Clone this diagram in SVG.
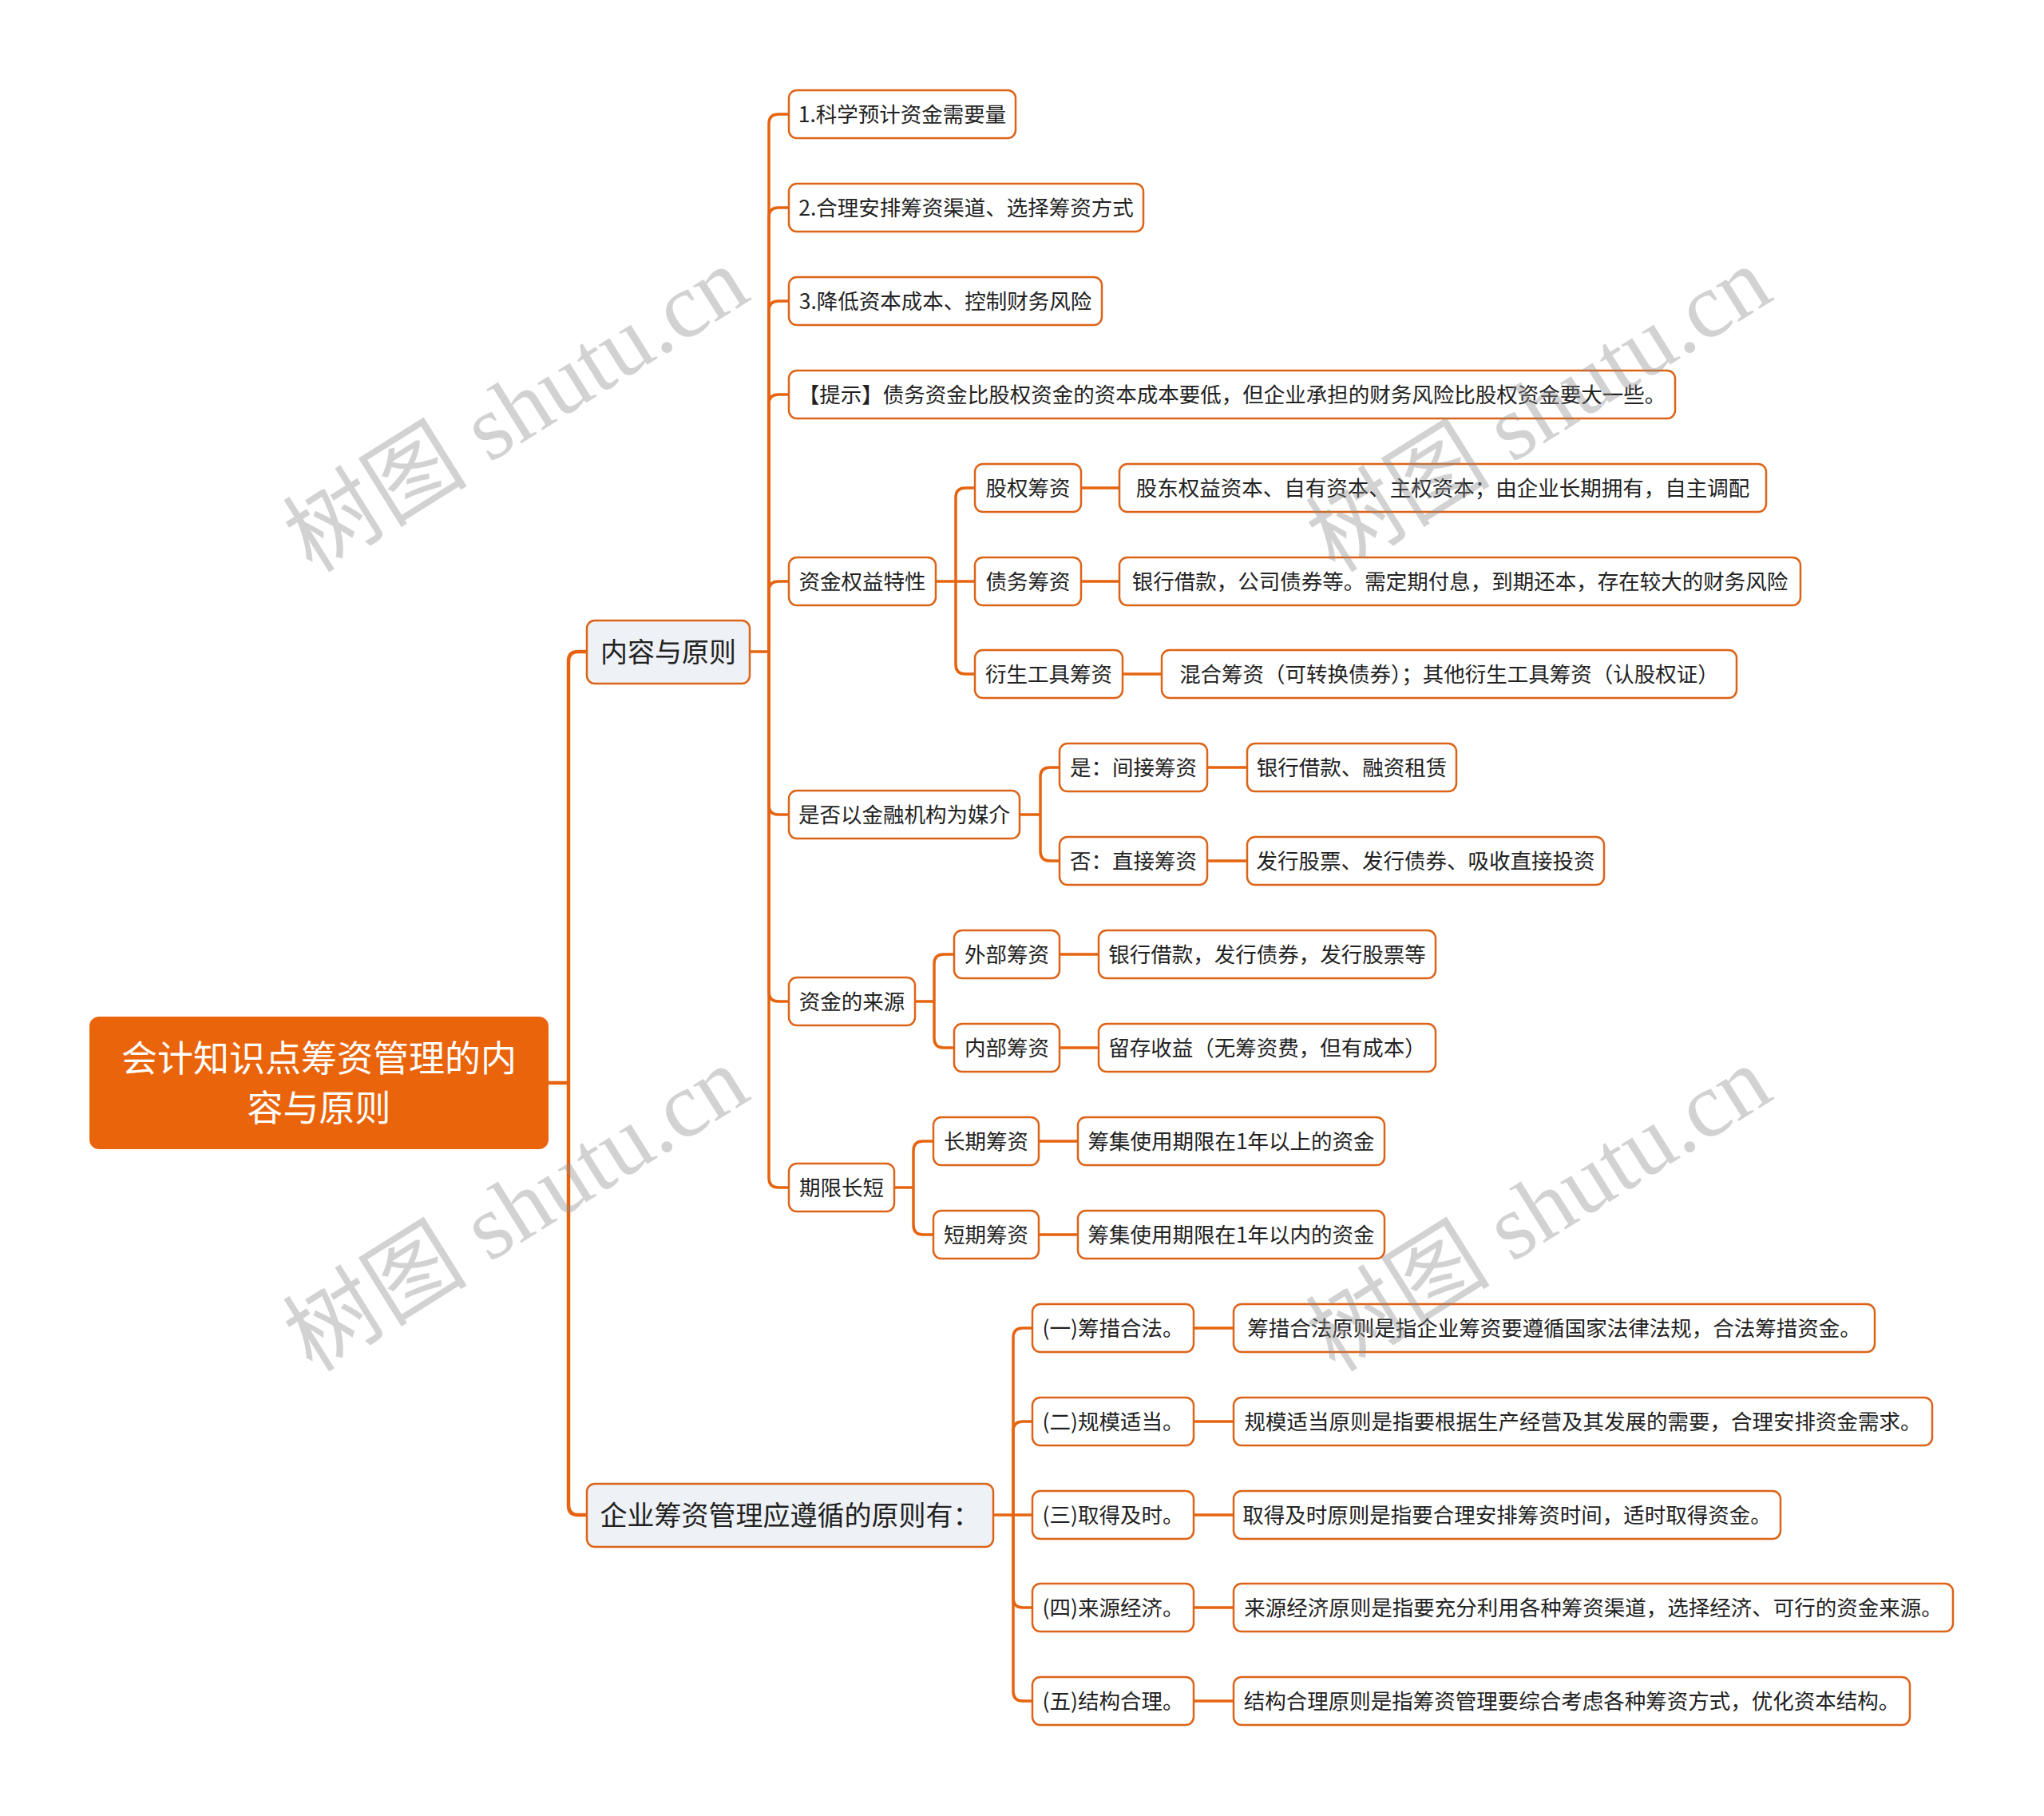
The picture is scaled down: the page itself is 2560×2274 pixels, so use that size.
<svg xmlns="http://www.w3.org/2000/svg" width="2560" height="2274" viewBox="0 0 2560 2274">
<style>
.bg{fill:#ffffff}
.c{fill:none;stroke:#e6640f;stroke-width:3.5}
.c1{fill:none;stroke:#e6640f;stroke-width:4.5}
.n rect{fill:#ffffff;stroke:#dc6418;stroke-width:2.5}
.l1 rect{fill:#eef1f5;stroke:#dc6418;stroke-width:2.5}
.root rect{fill:#ea640c}
text{font-family:"Noto Sans CJK SC","Noto Sans",sans-serif;text-anchor:middle;fill:#222222}
.n text{font-size:26.5px}
.root text{fill:#ffffff;font-size:45px}
.wm{font-family:"Liberation Serif","Noto Sans CJK SC",serif;font-size:116px;fill:#8c8c8c;opacity:0.38;text-anchor:middle}
</style>
<rect class="bg" x="0" y="0" width="2560" height="2274"/>

<g id="connectors">
  <path class="c1" d="M687 1356 H712"/>
  <path class="c1" d="M712 1356 V828 Q712 816 724 816 H735"/>
  <path class="c1" d="M712 1356 V1885 Q712 1897 724 1897 H735"/>
  <path class="c" d="M939 816 H963"/>
  <path class="c" d="M963 816 V155 Q963 143 975 143 H988"/>
  <path class="c" d="M963 816 V272 Q963 260 975 260 H988"/>
  <path class="c" d="M963 816 V389 Q963 377 975 377 H988"/>
  <path class="c" d="M963 816 V506 Q963 494 975 494 H988"/>
  <path class="c" d="M963 816 V740 Q963 728 975 728 H988"/>
  <path class="c" d="M963 816 V1008 Q963 1020 975 1020 H988"/>
  <path class="c" d="M963 816 V1242 Q963 1254 975 1254 H988"/>
  <path class="c" d="M963 816 V1475 Q963 1487 975 1487 H988"/>
  <path class="c" d="M1172 728 H1221"/>
  <path class="c" d="M1197 728 V623 Q1197 611 1209 611 H1221"/>
  <path class="c" d="M1197 728 V832 Q1197 844 1209 844 H1221"/>
  <path class="c" d="M1354 611 H1402"/>
  <path class="c" d="M1354 728 H1402"/>
  <path class="c" d="M1406 844 H1455"/>
  <path class="c" d="M1277 1020 H1303"/>
  <path class="c" d="M1303 1020 V973 Q1303 961 1315 961 H1327"/>
  <path class="c" d="M1303 1020 V1066 Q1303 1078 1315 1078 H1327"/>
  <path class="c" d="M1512 961 H1562"/>
  <path class="c" d="M1512 1078 H1562"/>
  <path class="c" d="M1146 1254 H1170"/>
  <path class="c" d="M1170 1254 V1207 Q1170 1195 1182 1195 H1195"/>
  <path class="c" d="M1170 1254 V1300 Q1170 1312 1182 1312 H1195"/>
  <path class="c" d="M1327 1195 H1376"/>
  <path class="c" d="M1327 1312 H1376"/>
  <path class="c" d="M1120 1487 H1144"/>
  <path class="c" d="M1144 1487 V1441 Q1144 1429 1156 1429 H1169"/>
  <path class="c" d="M1144 1487 V1534 Q1144 1546 1156 1546 H1169"/>
  <path class="c" d="M1301 1429 H1350"/>
  <path class="c" d="M1301 1546 H1350"/>
  <path class="c" d="M1244 1897 H1293"/>
  <path class="c" d="M1269 1897 V1675 Q1269 1663 1281 1663 H1293"/>
  <path class="c" d="M1269 1897 V1792 Q1269 1780 1281 1780 H1293"/>
  <path class="c" d="M1269 1897 V2001 Q1269 2013 1281 2013 H1293"/>
  <path class="c" d="M1269 1897 V2118 Q1269 2130 1281 2130 H1293"/>
  <path class="c" d="M1495 1663 H1545"/>
  <path class="c" d="M1495 1780 H1545"/>
  <path class="c" d="M1495 1897 H1545"/>
  <path class="c" d="M1495 2013 H1545"/>
  <path class="c" d="M1495 2130 H1545"/>
</g>

<g id="root" class="root">
  <rect x="112" y="1273" width="575" height="166" rx="12"/>
  <text x="399.5" y="1342">会计知识点筹资管理的内</text>
  <text x="399.5" y="1404">容与原则</text>
</g>

<g id="n-neirong" class="l1">
  <rect x="735" y="777" width="204" height="79" rx="10"/>
  <text x="837" y="829" style="font-size:34px">内容与原则</text>
</g>
<g id="n-qiye" class="l1">
  <rect x="735" y="1858" width="509" height="79" rx="10"/>
  <text x="989.5" y="1910" style="font-size:34px">企业筹资管理应遵循的原则有：</text>
</g>

<g id="n-a1" class="n"><rect x="988" y="113" width="284" height="60" rx="10"/><text x="1130" y="152.5">1.科学预计资金需要量</text></g>
<g id="n-a2" class="n"><rect x="988" y="230" width="444" height="60" rx="10"/><text x="1210" y="269.5">2.合理安排筹资渠道、选择筹资方式</text></g>
<g id="n-a3" class="n"><rect x="988" y="347" width="392" height="60" rx="10"/><text x="1184" y="386.5">3.降低资本成本、控制财务风险</text></g>
<g id="n-a4" class="n"><rect x="988" y="464" width="1110" height="60" rx="10"/><text x="1543" y="503.5">【提示】债务资金比股权资金的资本成本要低，但企业承担的财务风险比股权资金要大一些。</text></g>
<g id="n-a5" class="n"><rect x="988" y="698" width="184" height="60" rx="10"/><text x="1080" y="737.5">资金权益特性</text></g>
<g id="n-a6" class="n"><rect x="988" y="990" width="289" height="60" rx="10"/><text x="1132.5" y="1029.5">是否以金融机构为媒介</text></g>
<g id="n-a7" class="n"><rect x="988" y="1224" width="158" height="60" rx="10"/><text x="1067" y="1263.5">资金的来源</text></g>
<g id="n-a8" class="n"><rect x="988" y="1457" width="132" height="60" rx="10"/><text x="1054" y="1496.5">期限长短</text></g>

<g id="n-b1" class="n"><rect x="1221" y="581" width="133" height="60" rx="10"/><text x="1287.5" y="620.5">股权筹资</text></g>
<g id="n-b2" class="n"><rect x="1221" y="698" width="133" height="60" rx="10"/><text x="1287.5" y="737.5">债务筹资</text></g>
<g id="n-b3" class="n"><rect x="1221" y="814" width="185" height="60" rx="10"/><text x="1313.5" y="853.5">衍生工具筹资</text></g>
<g id="n-c1" class="n"><rect x="1402" y="581" width="810" height="60" rx="10"/><text x="1807" y="620.5">股东权益资本、自有资本、主权资本；由企业长期拥有，自主调配</text></g>
<g id="n-c2" class="n"><rect x="1402" y="698" width="853" height="60" rx="10"/><text x="1828.5" y="737.5">银行借款，公司债券等。需定期付息，到期还本，存在较大的财务风险</text></g>
<g id="n-c3" class="n"><rect x="1455" y="814" width="720" height="60" rx="10"/><text x="1815" y="853.5">混合筹资（可转换债券）；其他衍生工具筹资（认股权证）</text></g>

<g id="n-d1" class="n"><rect x="1327" y="931" width="185" height="60" rx="10"/><text x="1419.5" y="970.5">是：间接筹资</text></g>
<g id="n-d2" class="n"><rect x="1327" y="1048" width="185" height="60" rx="10"/><text x="1419.5" y="1087.5">否：直接筹资</text></g>
<g id="n-e1" class="n"><rect x="1562" y="931" width="262" height="60" rx="10"/><text x="1693" y="970.5">银行借款、融资租赁</text></g>
<g id="n-e2" class="n"><rect x="1562" y="1048" width="447" height="60" rx="10"/><text x="1785.5" y="1087.5">发行股票、发行债券、吸收直接投资</text></g>

<g id="n-f1" class="n"><rect x="1195" y="1165" width="132" height="60" rx="10"/><text x="1261" y="1204.5">外部筹资</text></g>
<g id="n-f2" class="n"><rect x="1195" y="1282" width="132" height="60" rx="10"/><text x="1261" y="1321.5">内部筹资</text></g>
<g id="n-g1" class="n"><rect x="1376" y="1165" width="422" height="60" rx="10"/><text x="1587" y="1204.5">银行借款，发行债券，发行股票等</text></g>
<g id="n-g2" class="n"><rect x="1376" y="1282" width="422" height="60" rx="10"/><text x="1587" y="1321.5">留存收益（无筹资费，但有成本）</text></g>

<g id="n-h1" class="n"><rect x="1169" y="1399" width="132" height="60" rx="10"/><text x="1235" y="1438.5">长期筹资</text></g>
<g id="n-h2" class="n"><rect x="1169" y="1516" width="132" height="60" rx="10"/><text x="1235" y="1555.5">短期筹资</text></g>
<g id="n-i1" class="n"><rect x="1350" y="1399" width="384" height="60" rx="10"/><text x="1542" y="1438.5">筹集使用期限在1年以上的资金</text></g>
<g id="n-i2" class="n"><rect x="1350" y="1516" width="384" height="60" rx="10"/><text x="1542" y="1555.5">筹集使用期限在1年以内的资金</text></g>

<g id="n-j1" class="n"><rect x="1293" y="1633" width="202" height="60" rx="10"/><text x="1394" y="1672.5">(一)筹措合法。</text></g>
<g id="n-j2" class="n"><rect x="1293" y="1750" width="202" height="60" rx="10"/><text x="1394" y="1789.5">(二)规模适当。</text></g>
<g id="n-j3" class="n"><rect x="1293" y="1867" width="202" height="60" rx="10"/><text x="1394" y="1906.5">(三)取得及时。</text></g>
<g id="n-j4" class="n"><rect x="1293" y="1983" width="202" height="60" rx="10"/><text x="1394" y="2022.5">(四)来源经济。</text></g>
<g id="n-j5" class="n"><rect x="1293" y="2100" width="202" height="60" rx="10"/><text x="1394" y="2139.5">(五)结构合理。</text></g>
<g id="n-k1" class="n"><rect x="1545" y="1633" width="803" height="60" rx="10"/><text x="1946.5" y="1672.5">筹措合法原则是指企业筹资要遵循国家法律法规，合法筹措资金。</text></g>
<g id="n-k2" class="n"><rect x="1545" y="1750" width="875" height="60" rx="10"/><text x="1982.5" y="1789.5">规模适当原则是指要根据生产经营及其发展的需要，合理安排资金需求。</text></g>
<g id="n-k3" class="n"><rect x="1545" y="1867" width="685" height="60" rx="10"/><text x="1887.5" y="1906.5">取得及时原则是指要合理安排筹资时间，适时取得资金。</text></g>
<g id="n-k4" class="n"><rect x="1545" y="1983" width="901" height="60" rx="10"/><text x="1995.5" y="2022.5">来源经济原则是指要充分利用各种筹资渠道，选择经济、可行的资金来源。</text></g>
<g id="n-k5" class="n"><rect x="1545" y="2100" width="847" height="60" rx="10"/><text x="1968.5" y="2139.5">结构合理原则是指筹资管理要综合考虑各种筹资方式，优化资本结构。</text></g>

<g id="watermarks">
  <text class="wm" x="647" y="552" transform="rotate(-32 647 514)">树图 shutu.cn</text>
  <text class="wm" x="1928" y="552" transform="rotate(-32 1928 514)">树图 shutu.cn</text>
  <text class="wm" x="647" y="1553" transform="rotate(-32 647 1515)">树图 shutu.cn</text>
  <text class="wm" x="1928" y="1553" transform="rotate(-32 1928 1515)">树图 shutu.cn</text>
</g>
</svg>
